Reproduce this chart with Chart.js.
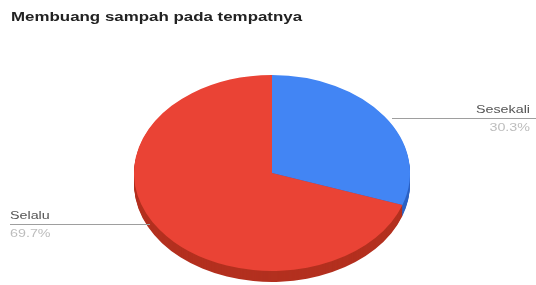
<!DOCTYPE html>
<html>
<head>
<meta charset="utf-8">
<script src="https://cdn.jsdelivr.net/npm/chart.js@4/dist/chart.umd.min.js"></script>
<style>
html,body{margin:0;padding:0;background:#fff;}
#wrap{width:536px;height:285px;position:relative;}
</style>
</head>
<body>
<div id="wrap"><canvas id="c" width="536" height="285"></canvas></div>
<script>
const chartTitle = 'Membuang sampah pada tempatnya';
const categories = ['Sesekali', 'Selalu'];
const percentages = [30.3, 69.7];
const sliceColors = ['#4285F4', '#EA4335'];
const sideColors = ['#2B62C4', '#B3301F'];

const TEXT_STRETCH = 1.3;
const Y_SQUASH = 0.71;
const TARGET_CY = 173;
const DEPTH = 11;

function sectorPath(ctx, a) {
  ctx.beginPath();
  ctx.moveTo(a.x, a.y);
  ctx.arc(a.x, a.y, a.outerRadius, a.startAngle, a.endAngle);
  ctx.closePath();
}

const tiltPlugin = {
  id: 'tilt',
  beforeDatasetsDraw(chart) {
    const ctx = chart.ctx;
    const arcs = chart.getDatasetMeta(0).data;
    const cy = arcs[0].y;
    // side walls
    for (let d = DEPTH; d >= 1; d--) {
      ctx.save();
      ctx.translate(0, TARGET_CY + d);
      ctx.scale(1, Y_SQUASH);
      ctx.translate(0, -cy);
      arcs.forEach((a, i) => {
        sectorPath(ctx, a);
        ctx.fillStyle = sideColors[i];
        ctx.fill();
      });
      ctx.restore();
    }
    ctx.save();
    ctx.translate(0, TARGET_CY);
    ctx.scale(1, Y_SQUASH);
    ctx.translate(0, -cy);
  },
  afterDatasetsDraw(chart) {
    chart.ctx.restore();
  },
  afterDraw(chart) {
    const ctx = chart.ctx;
    function stretchedText(txt, x, y, font, color) {
      ctx.save();
      ctx.font = font;
      ctx.fillStyle = color;
      ctx.textBaseline = 'alphabetic';
      ctx.translate(x, y);
      ctx.scale(TEXT_STRETCH, 1);
      ctx.fillText(txt, 0, 0);
      ctx.restore();
    }
    // title
    stretchedText(chartTitle, 11, 21, 'bold 13px "Liberation Sans", Arial, sans-serif', '#222');
    // leader lines
    ctx.save();
    ctx.strokeStyle = '#9e9e9e';
    ctx.lineWidth = 1;
    ctx.beginPath();
    ctx.moveTo(392, 118.5); ctx.lineTo(536, 118.5);
    ctx.moveTo(10, 224.5); ctx.lineTo(150, 224.5);
    ctx.stroke();
    ctx.restore();
    // labels
    const lblFont = '11px "Liberation Sans", Arial, sans-serif';
    ctx.save();
    ctx.font = lblFont;
    const w0 = ctx.measureText(categories[0]).width * TEXT_STRETCH;
    const p0 = percentages[0].toFixed(1) + '%';
    const w0p = ctx.measureText(p0).width * TEXT_STRETCH;
    ctx.restore();
    stretchedText(categories[0], 530 - w0, 113, lblFont, '#555');
    stretchedText(p0, 530 - w0p, 131, lblFont, '#bdbdbd');
    stretchedText(categories[1], 10, 219, lblFont, '#555');
    stretchedText(percentages[1].toFixed(1) + '%', 10, 237, lblFont, '#bdbdbd');
  }
};

new Chart(document.getElementById('c'), {
  type: 'pie',
  data: {
    labels: categories,
    datasets: [{
      data: percentages,
      backgroundColor: sliceColors,
      borderWidth: 0
    }]
  },
  options: {
    responsive: false,
    animation: false,
    events: [],
    layout: { padding: { left: 134, right: 126, top: 4, bottom: 5 } },
    plugins: {
      legend: { display: false },
      title: { display: false },
      tooltip: { enabled: false }
    }
  },
  plugins: [tiltPlugin]
});
</script>
</body>
</html>
